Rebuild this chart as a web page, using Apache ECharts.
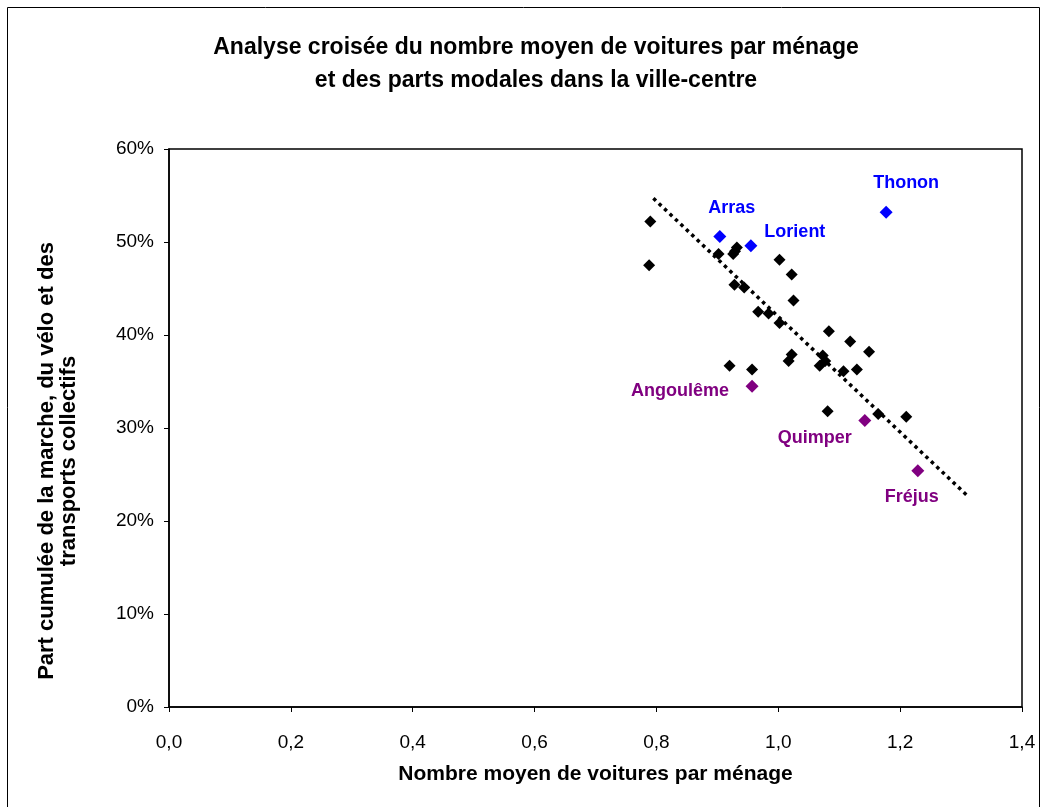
<!DOCTYPE html>
<html>
<head>
<meta charset="utf-8">
<title>Analyse croisée</title>
<script src="https://cdn.jsdelivr.net/npm/echarts@6/dist/echarts.min.js"></script>
<style>
  html, body { margin: 0; padding: 0; background: #fff; }
  #main { width: 1047px; height: 807px; }
</style>
</head>
<body>
<div id="main"></div>
<script>
// nombre moyen de voitures par ménage / part cumulée (%)
const autresX = [0.790, 0.788, 0.902, 0.926, 0.932, 0.929, 1.002, 1.022, 1.025, 0.928,
  0.944, 0.967, 0.984, 1.002, 1.083, 1.118, 1.149, 1.022, 1.017, 1.073,
  1.077, 1.068, 1.107, 1.129, 0.920, 0.957, 1.081, 1.164, 1.210];
const autresY = [52.2, 47.5, 48.7, 48.7, 49.4, 49.0, 48.1, 46.5, 43.7, 45.4,
  45.1, 42.5, 42.3, 41.3, 40.4, 39.3, 38.2, 37.9, 37.2, 37.8,
  37.2, 36.7, 36.1, 36.3, 36.7, 36.3, 31.8, 31.5, 31.2];

const villesBleues = ["Arras", "Lorient", "Thonon"];
const bleuesX = [0.904, 0.955, 1.177];
const bleuesY = [50.6, 49.6, 53.2];

const villesViolettes = ["Angoulême", "Quimper", "Fréjus"];
const violettesX = [0.957, 1.142, 1.229];
const violettesY = [34.5, 30.8, 25.4];

// droite de tendance (extrémités)
const tendanceX = [0.795, 1.309];
const tendanceY = [54.7, 22.8];

// placement des étiquettes
const labelOffsets = {
  "Arras": [12, -28], "Lorient": [44, -14], "Thonon": [20, -29],
  "Angoulême": [-72, 5], "Quimper": [-50, 17], "Fréjus": [-6, 26]
};

const zip = (xs, ys) => xs.map((x, i) => [x, ys[i]]);
const named = (names, xs, ys) => names.map((n, i) => ({
  name: n, value: [xs[i], ys[i]],
  label: { offset: labelOffsets[n] }
}));

const chart = echarts.init(document.getElementById('main'));
const labelFont = "'Liberation Sans', Arial, sans-serif";

chart.setOption({
  animation: false,
  textStyle: { fontFamily: labelFont },
  title: {
    text: "Analyse croisée du nombre moyen de voitures par ménage\net des parts modales dans la ville-centre",
    left: 531, top: 26, textAlign: 'center',
    textStyle: { fontSize: 23, fontWeight: 'bold', color: '#000', lineHeight: 33, fontFamily: labelFont }
  },
  graphic: [
    {
      type: 'rect', shape: { x: 7.5, y: 7.5, width: 1032, height: 810 },
      style: { fill: 'none', stroke: '#000', lineWidth: 1 }, silent: true
    },
    {
      // titre de l'axe vertical, un peu plus bas que le milieu comme l'original
      type: 'text', x: 58, y: 461, rotation: Math.PI / 2, silent: true,
      style: {
        text: 'Part cumulée de la marche, du vélo et des\ntransports collectifs',
        fontSize: 22, fontWeight: 'bold', fontFamily: labelFont, fill: '#000',
        lineHeight: 22, align: 'center', verticalAlign: 'middle'
      }
    }
  ],
  grid: {
    left: 169, right: 25, top: 149, bottom: 100,
    show: true, borderColor: '#000', borderWidth: 1.5, backgroundColor: '#fff'
  },
  xAxis: {
    type: 'value', min: 0, max: 1.4, interval: 0.2,
    name: 'Nombre moyen de voitures par ménage',
    nameLocation: 'middle', nameGap: 57,
    nameTextStyle: { fontSize: 21, fontWeight: 'bold', color: '#000' },
    axisLine: { show: true, lineStyle: { color: '#000', width: 1.5 } },
    axisTick: { show: true, inside: false, length: 5, lineStyle: { color: '#000' } },
    axisLabel: {
      fontSize: 19, color: '#000', margin: 26,
      formatter: v => v.toFixed(1).replace('.', ',')
    },
    splitLine: { show: false }
  },
  yAxis: {
    type: 'value', min: 0, max: 60, interval: 10,
    axisLine: { show: true, lineStyle: { color: '#000', width: 1.5 } },
    axisTick: { show: true, inside: false, length: 5, lineStyle: { color: '#000' } },
    axisLabel: { fontSize: 19, color: '#000', margin: 15, formatter: '{value}%' },
    splitLine: { show: false }
  },
  series: [
    {
      type: 'line', data: zip(tendanceX, tendanceY), symbol: 'none',
      lineStyle: { color: '#000', width: 3.5, type: [3.5, 4] }, z: 1
    },
    {
      type: 'scatter', data: zip(autresX, autresY),
      symbol: 'diamond', symbolSize: 12, itemStyle: { color: '#000', opacity: 1 }, z: 3
    },
    {
      type: 'scatter', data: named(villesBleues, bleuesX, bleuesY),
      symbol: 'diamond', symbolSize: 13, itemStyle: { color: '#0000FF', opacity: 1 }, z: 4,
      label: {
        show: true, position: 'inside', formatter: '{b}',
        color: '#0000FF', fontSize: 18, fontWeight: 'bold'
      }
    },
    {
      type: 'scatter', data: named(villesViolettes, violettesX, violettesY),
      symbol: 'diamond', symbolSize: 13, itemStyle: { color: '#800080', opacity: 1 }, z: 4,
      label: {
        show: true, position: 'inside', formatter: '{b}',
        color: '#800080', fontSize: 18, fontWeight: 'bold'
      }
    }
  ]
});
</script>
</body>
</html>
